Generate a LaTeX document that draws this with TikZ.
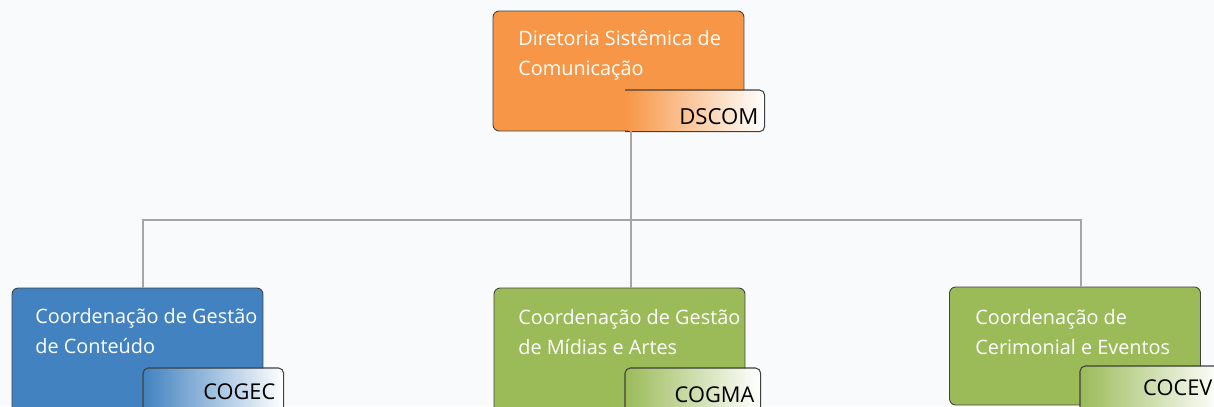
\documentclass[tikz,border=0pt]{standalone}
\usepackage{fontspec}
\setmainfont{Open Sans}
\usetikzlibrary{positioning,calc}
\definecolor{dsorange}{HTML}{F79646}
\definecolor{coblue}{HTML}{4282C0}
\definecolor{cogreen}{HTML}{9BBB59}
\definecolor{edgegray}{HTML}{404040}
\definecolor{linkgray}{HTML}{A5A5A5}
\definecolor{canvas}{HTML}{F9FAFC}

\begin{document}
\begin{tikzpicture}[x=0.02cm, y=-0.02cm,
  unit/.style={draw=edgegray, line width=0.5pt, rounded corners=3.5pt, minimum width=5.02cm, minimum height=2.4cm, inner sep=0pt},
  title/.style={text=white, font=\fontsize{11.3}{17}\selectfont, align=left, inner sep=0pt, anchor=north west},
  tag/.style={rounded corners=3pt, minimum height=1cm, inner sep=0pt, anchor=north west},
  tagedge/.style={draw=edgegray, line width=0.6pt, rounded corners=3pt},
  abbr/.style={font=\fontsize{12.4}{14}\selectfont, text=black, inner sep=0pt, anchor=base east},
  link/.style={draw=linkgray, line width=1.1pt}]
\useasboundingbox (0,0) rectangle (1214,406);
\clip (0,0) rectangle (1214,406);
\fill[canvas] (0,0) rectangle (1214,406);
% director
\node[unit, fill=dsorange] (dscom) at (618.5,71) {};
\node[title] (dscomtxt) at (518,30) {Diretoria Sistêmica de\\Comunicação};
\node[tag, left color=dsorange, middle color=dsorange!45, right color=white, minimum width=2.78cm, minimum height=0.82cm] (dscomtag) at (625,90) {};
\draw[tagedge] (dscomtag.north west) -- (dscomtag.north east) -- (dscomtag.south east) -- (dscomtag.south west);
\node[abbr, font=\fontsize{12.6}{14}\selectfont] at ($(dscomtag.north east)+(-6,34)$) {DSCOM};
% coordinations
\node[unit, fill=coblue, minimum height=2.5cm] (cogec) at (137.5,350.5) {};
\node[title] (cogectxt) at (35,308) {Coordenação de Gestão\\de Conteúdo};
\node[tag, left color=coblue, middle color=coblue!45, right color=white, minimum width=2.8cm] (cogectag) at (143,368) {};
\draw[tagedge] (cogectag.south west) -- (cogectag.north west) -- (cogectag.north east) -- (cogectag.south east);
\node[abbr] at ($(cogectag.north east)+(-8,31)$) {COGEC};

\node[unit, fill=cogreen, minimum height=2.5cm] (cogma) at (619.5,350.5) {};
\node[title] (cogmatxt) at (518,309) {Coordenação de Gestão\\de Mídias e Artes};
\node[tag, left color=cogreen, middle color=cogreen!45, right color=white, minimum width=2.7cm] (cogmatag) at (625,368) {};
\draw[tagedge] (cogmatag.south west) -- (cogmatag.north west) -- (cogmatag.north east) -- (cogmatag.south east);
\node[abbr] at ($(cogmatag.north east)+(-6,34)$) {COGMA};

\node[unit, fill=cogreen, minimum height=2.36cm] (cocev) at (1075,346) {};
\node[title] (cocevtxt) at (975,309) {Coordenação de\\Cerimonial e Eventos};
\node[tag, left color=cogreen, middle color=cogreen!45, right color=white, minimum width=2.8cm] (cocevtag) at (1080,366) {};
\draw[tagedge] (cocevtag.south west) -- (cocevtag.north west) -- (cocevtag.north east) -- (cocevtag.south east);
\node[abbr] at ($(cocevtag.north east)+(-8,29)$) {COCEV};
% links
\coordinate (busmid) at (631,220);
\coordinate (busleft) at (143,220);
\coordinate (busright) at (1081,220);
\draw[link] (dscom.south -| busmid) -- (cogma.north -| busmid);
\draw[link] (cogec.north -| busleft) -- (busleft) -- (busright) -- (cocev.north -| busright);
\end{tikzpicture}
\end{document}
